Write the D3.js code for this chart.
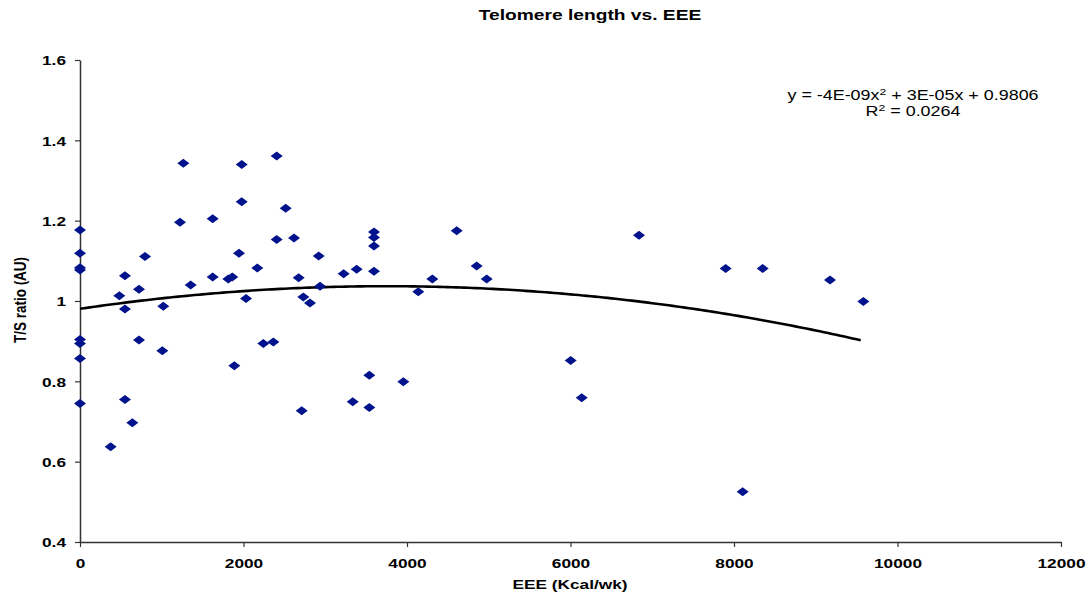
<!DOCTYPE html>
<html>
<head>
<meta charset="utf-8">
<script src="https://cdn.jsdelivr.net/npm/d3@7"></script>
<style>
  body { margin: 0; background: #fff; }
  text { font-family: "Liberation Sans", Arial, sans-serif; }
</style>
</head>
<body>
<div id="graph"></div>
<script>
/*******************************************************************************
* Data
*******************************************************************************/
var eee = [0, 0, 0, 0, 0, 0, 0, 0,
  375, 481, 550, 550, 550, 640, 722, 722, 795, 1007, 1019, 1223, 1264, 1354,
  1623, 1623, 1814, 1863, 1888, 1945, 1978, 1978, 2031, 2169, 2243, 2365,
  2406, 2406, 2516, 2618, 2675, 2712, 2732, 2813, 2920, 2936, 3225, 3336,
  3384, 3539, 3539, 3596, 3596, 3596, 3596, 3955, 4138, 4310, 4608, 4852,
  4975, 6002, 6137, 6838, 7898, 8106, 8351, 9174, 9582];
var tsRatio = [1.177, 1.119, 1.083, 1.077, 0.904, 0.894, 0.857, 0.745,
  0.637, 1.013, 1.063, 0.980, 0.755, 0.697, 1.029, 0.903, 1.111, 0.876, 0.987, 1.196, 1.343, 1.040,
  1.205, 1.060, 1.055, 1.060, 0.839, 1.119, 1.340, 1.247, 1.006, 1.082, 0.894, 0.898,
  1.361, 1.153, 1.231, 1.157, 1.058, 0.727, 1.010, 0.995, 1.112, 1.037, 1.068, 0.749,
  1.079, 0.815, 0.735, 1.172, 1.158, 1.137, 1.074, 0.799, 1.023, 1.055, 1.175, 1.087,
  1.055, 0.852, 0.759, 1.164, 1.081, 0.525, 1.081, 1.052, 0.999];

var xTicks = [0, 2000, 4000, 6000, 8000, 10000, 12000];
var yTicks = [0.4, 0.6, 0.8, 1, 1.2, 1.4, 1.6];

// polynomial trendline shown on the chart: y = a x^2 + b x + c
var trendCoef = [-4e-9, 3e-5, 0.9806];
var trendLabel = "y = -4E-09x";
var trendLabelTail = " + 3E-05x + 0.9806";
var r2Value = "0.0264";

var title = "Telomere length vs. EEE";
var xTitle = "EEE (Kcal/wk)";
var yTitle = "T/S ratio (AU)";

/*******************************************************************************
* Svg container
*******************************************************************************/
var W = 1089, H = 599;
var stretch = 1.28; // the source picture is stretched horizontally

var svg = d3.select("#graph").append("svg")
  .attr("width", W)
  .attr("height", H);

var x = d3.scaleLinear().domain([0, 12000]).range([80, 1061]);
var y = d3.scaleLinear().domain([0.4, 1.6]).range([542, 60]);

/*******************************************************************************
* Axes
*******************************************************************************/
var yAxis = svg.append("g")
  .attr("transform", "translate(80,0)")
  .call(d3.axisLeft(y).tickValues(yTicks).tickSize(5).tickSizeOuter(0)
    .tickFormat(function(d){ return String(+d.toFixed(1)); }));

var xAxis = svg.append("g")
  .attr("transform", "translate(0,542)")
  .call(d3.axisBottom(x).tickValues(xTicks).tickSize(5).tickSizeOuter(0)
    .tickFormat(d3.format("d")));

[yAxis, xAxis].forEach(function(g){
  g.select(".domain").attr("stroke", "#333").attr("stroke-width", 1.5);
  g.selectAll(".tick line").attr("stroke", "#333").attr("stroke-width", 1.2);
  g.selectAll(".tick text")
    .attr("fill", "#000")
    .style("font-size", "13.5px")
    .style("font-weight", "bold");
});

yAxis.selectAll(".tick text")
  .attr("x", -14 / stretch)
  .attr("dy", "0.35em")
  .attr("transform", "scale(" + stretch + ",1)");

xAxis.selectAll(".tick text")
  .attr("y", 16)
  .attr("dy", "0.71em")
  .attr("transform", "scale(" + stretch + ",1)");

/*******************************************************************************
* Trendline
*******************************************************************************/
var xMax = d3.max(eee);
var trendPts = d3.range(0, xMax + 1, 50).map(function(v){
  return [v, trendCoef[0] * v * v + trendCoef[1] * v + trendCoef[2]];
});

svg.append("path")
  .datum(trendPts)
  .attr("fill", "none")
  .attr("stroke", "#000")
  .attr("stroke-width", 2.6)
  .attr("d", d3.line()
    .x(function(d){ return x(d[0]); })
    .y(function(d){ return y(d[1]); }));

/*******************************************************************************
* Points
*******************************************************************************/
var pts = eee.map(function(v, i){ return { x: v, y: tsRatio[i] }; });

svg.append("g").selectAll("path")
  .data(pts)
  .enter()
  .append("path")
  .attr("d", "M0,-4.5 L6,0 L0,4.5 L-6,0 Z")
  .attr("transform", function(d){ return "translate(" + x(d.x) + "," + y(d.y) + ")"; })
  .attr("fill", "#00128c");

/*******************************************************************************
* Texts
*******************************************************************************/
function label(px, py, str, size, bold, anchor){
  return svg.append("text")
    .attr("transform", "translate(" + px + "," + py + ") scale(" + stretch + ",1)")
    .attr("text-anchor", anchor || "middle")
    .style("font-size", size + "px")
    .style("font-weight", bold ? "bold" : "normal")
    .text(str);
}

label(590, 20, title, 15, true);
label(570, 589, xTitle, 13.5, true);

svg.append("text")
  .attr("transform", "translate(26,300) scale(" + stretch + ",1) rotate(-90)")
  .attr("text-anchor", "middle")
  .style("font-size", "13.5px")
  .style("font-weight", "bold")
  .text(yTitle);

var eq = label(913, 100, "", 14, false);
eq.append("tspan").text(trendLabel);
eq.append("tspan").attr("dy", -5).style("font-size", "9.5px").text("2");
eq.append("tspan").attr("dy", 5).text(trendLabelTail);

var r2 = label(913, 116, "", 14, false);
r2.append("tspan").text("R");
r2.append("tspan").attr("dy", -5).style("font-size", "9.5px").text("2");
r2.append("tspan").attr("dy", 5).text(" = " + r2Value);
</script>
</body>
</html>
